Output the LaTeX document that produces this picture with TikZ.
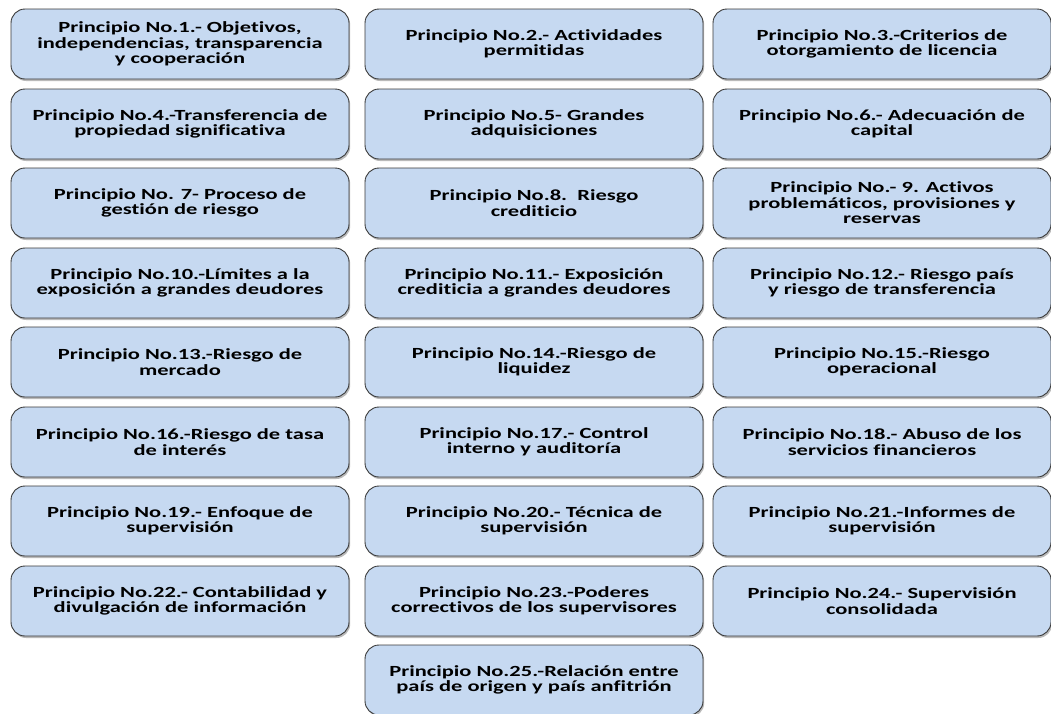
\documentclass[tikz,border=0pt]{standalone}
\usepackage{fontspec}
\setmainfont{Carlito}[FakeStretch=1.45, Ligatures=NoCommon]
\usetikzlibrary{shadows}

\definecolor{boxblue}{HTML}{C6D9F1}
\definecolor{boxline}{HTML}{3A3A3A}

\tikzset{
  principio/.style={draw=boxline, line width=0.9pt, fill=boxblue,
    rounded corners=14pt, minimum width=338pt, minimum height=70pt,
    align=center, inner sep=2pt,
    font=\fontsize{15.5}{15.5}\selectfont\bfseries,
    drop shadow={shadow xshift=1.2pt, shadow yshift=-2pt, opacity=.45, fill=black!60}}
}

\begin{document}
\begin{tikzpicture}[x=1pt,y=-1pt]
  \useasboundingbox[fill=white] (0,0) rectangle (1051,713);
  % row 1
  \node[principio] (p1) at (180,44) {Principio No.1.- Objetivos,\\independencias, transparencia\\y cooperación};
  \node[principio] (p2) at (534,44) {Principio No.2.- Actividades\\permitidas};
  \node[principio] (p3) at (882,44) {Principio No.3.-Criterios de\\otorgamiento de licencia};
  % row 2
  \node[principio] (p4) at (180,124) {Principio No.4.-Transferencia de\\propiedad significativa};
  \node[principio] (p5) at (534,124) {Principio No.5- Grandes\\adquisiciones};
  \node[principio] (p6) at (882,124) {Principio No.6.- Adecuación de\\capital};
  % row 3
  \node[principio] (p7) at (180,203) {Principio No. 7- Proceso de\\gestión de riesgo};
  \node[principio] (p8) at (534,203) {Principio No.8.\ \ Riesgo\\crediticio};
  \node[principio] (p9) at (882,203) {Principio No.- 9. Activos\\problemáticos, provisiones y\\reservas};
  % row 4
  \node[principio] (p10) at (180,283) {Principio No.10.-Límites a la\\exposición a grandes deudores};
  \node[principio] (p11) at (534,283) {Principio No.11.- Exposición\\crediticia a grandes deudores};
  \node[principio] (p12) at (882,283) {Principio No.12.- Riesgo país\\y riesgo de transferencia};
  % row 5
  \node[principio] (p13) at (180,362) {Principio No.13.-Riesgo de\\mercado};
  \node[principio] (p14) at (534,362) {Principio No.14.-Riesgo de\\liquidez};
  \node[principio] (p15) at (882,362) {Principio No.15.-Riesgo\\operacional};
  % row 6
  \node[principio] (p16) at (180,442) {Principio No.16.-Riesgo de tasa\\de interés};
  \node[principio] (p17) at (534,442) {Principio No.17.- Control\\interno y auditoría};
  \node[principio] (p18) at (882,442) {Principio No.18.- Abuso de los\\servicios financieros};
  % row 7
  \node[principio] (p19) at (180,521) {Principio No.19.- Enfoque de\\supervisión};
  \node[principio] (p20) at (534,521) {Principio No.20.- Técnica de\\supervisión};
  \node[principio] (p21) at (882,521) {Principio No.21.-Informes de\\supervisión};
  % row 8
  \node[principio] (p22) at (180,601) {Principio No.22.- Contabilidad y\\divulgación de información};
  \node[principio] (p23) at (534,601) {Principio No.23.-Poderes\\correctivos de los supervisores};
  \node[principio] (p24) at (882,601) {Principio No.24.- Supervisión\\consolidada};
  % last one
  \node[principio] (p25) at (534,680) {Principio No.25.-Relación entre\\país de origen y país anfitrión};
\end{tikzpicture}
\end{document}
